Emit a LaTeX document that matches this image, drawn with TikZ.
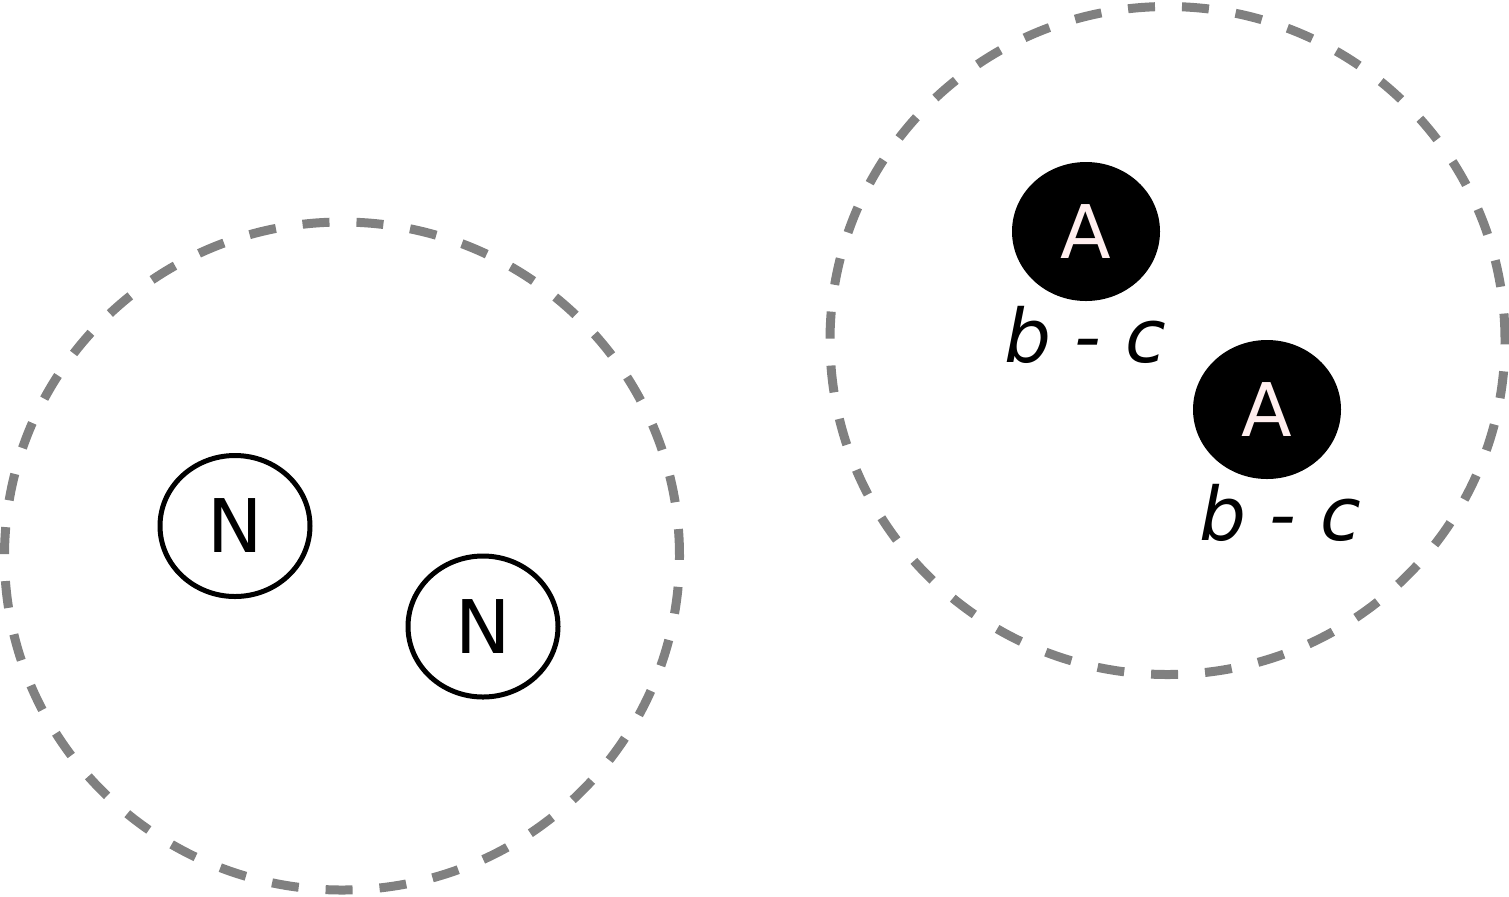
\documentclass[tikz,border=0pt]{standalone}
\usepackage{fontspec}
\setmainfont{DejaVu Sans}
\usetikzlibrary{shapes.geometric}
\definecolor{paleletter}{RGB}{255,238,238}

\begin{document}
\begin{tikzpicture}[x=0.5pt, y=-0.5pt]
        \tikzstyle{every node}=[ellipse, inner sep=0pt, font=\fontsize{37}{44}\selectfont]
        \tikzstyle{group}=[draw=gray, line width=4.5pt, dash pattern=on 13.5pt off 13.5pt, minimum width=337.5pt, minimum height=334pt]
        \tikzstyle{plain}=[draw=black, line width=2.5pt, fill=white, minimum width=75pt, minimum height=70.5pt]
        \tikzstyle{marked}=[fill=black, text=paleletter, minimum width=74pt, minimum height=69.5pt]
        \tikzstyle{tag}=[rectangle, anchor=base, font=\fontsize{37}{44}\selectfont\itshape]

        \useasboundingbox (0,0) rectangle (1509,896);

        \node[group] (left)  at (342,556)    {};
        \node[group] (right) at (1167.5,340.5) {};

        \node[plain] (n1) at (235,526)   {N};
        \node[plain] (n2) at (483,626.5) {N};

        \node[marked] (a1) at (1086,231.5) {A};
        \node[marked] (a2) at (1267,409.5) {A};

        \node[tag] (t1) at (1085,362) {b - c};
        \node[tag] (t2) at (1280,540) {b - c};
    \end{tikzpicture}
\end{document}
